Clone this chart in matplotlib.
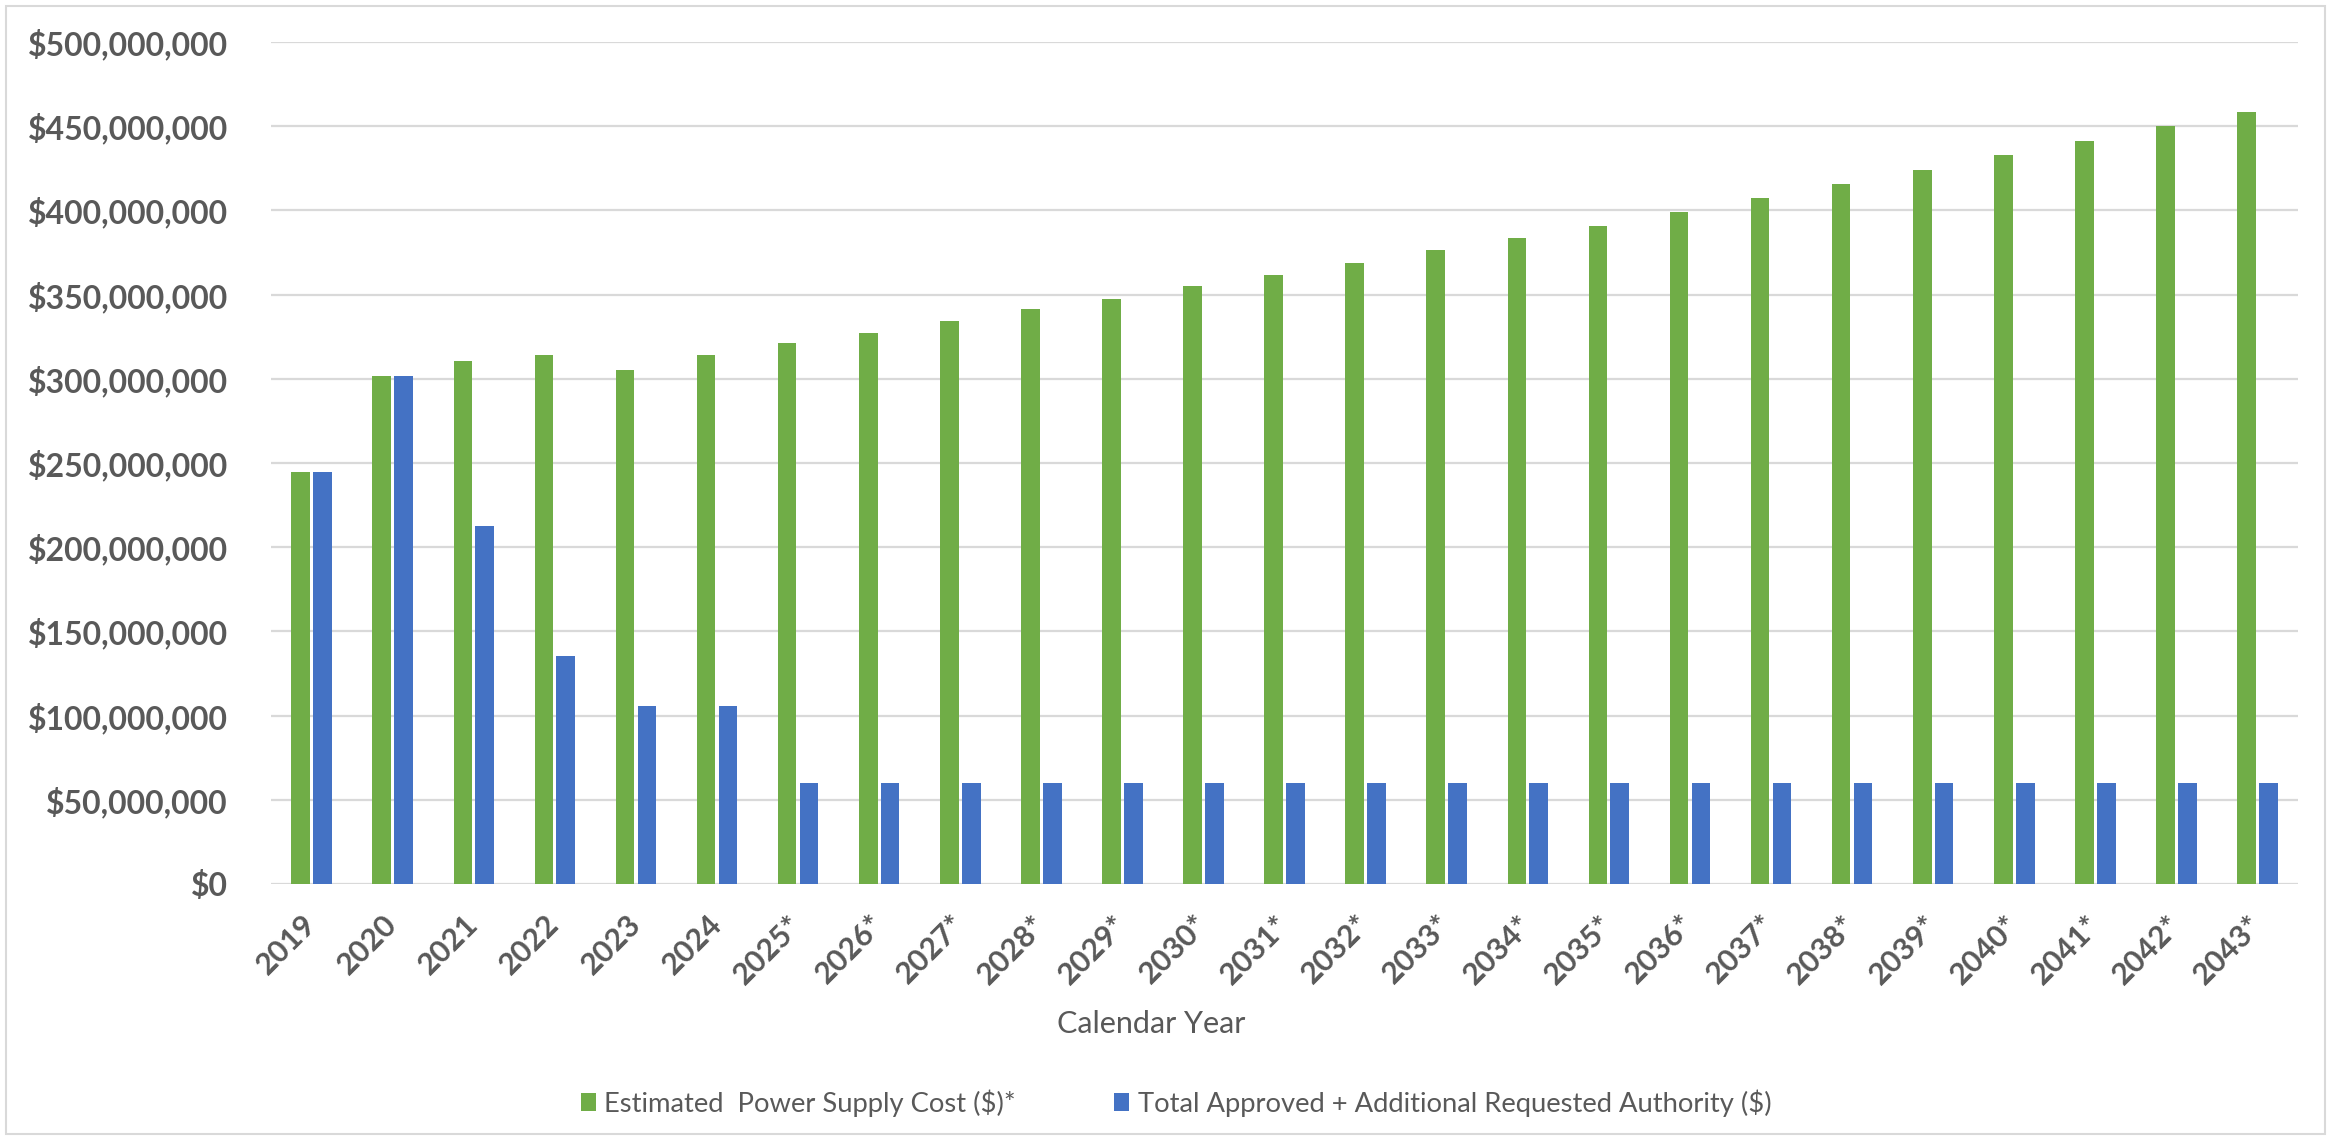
import matplotlib
matplotlib.use("Agg")
import matplotlib.pyplot as plt
import numpy as np
from matplotlib.patches import Rectangle
from matplotlib.ticker import FuncFormatter, MultipleLocator

plt.rcParams['font.family'] = ['Lato', 'DejaVu Sans']

years = ['2019', '2020', '2021', '2022', '2023', '2024', '2025*', '2026*', '2027*',
         '2028*', '2029*', '2030*', '2031*', '2032*', '2033*', '2034*', '2035*',
         '2036*', '2037*', '2038*', '2039*', '2040*', '2041*', '2042*', '2043*']

# values in $ millions
supply_cost = [244.9, 301.5, 310.3, 314.4, 305.1, 314.4, 321.2, 327.4, 334.4,
               341.2, 347.1, 355.0, 361.8, 368.7, 376.4, 383.3, 391.0,
               399.0, 407.5, 415.4, 423.9, 432.6, 441.1, 449.8, 458.4]
authority = [244.9, 301.5, 212.7, 135.2, 105.9, 105.9, 60, 60, 60,
             60, 60, 60, 60, 60, 60, 60, 60,
             60, 60, 60, 60, 60, 60, 60, 60]

green = '#70AD47'
blue = '#4472C4'
grey = '#595959'

fig = plt.figure(figsize=(23.33, 11.40), dpi=100)
ax = fig.add_axes([0.1162, 0.2246, 0.985 - 0.1162, 0.9632 - 0.2246])

x = np.arange(len(years))
w = 0.23
ax.bar(x - 0.135, np.array(supply_cost) * 1e6, w, color=green, zorder=3,
       label='Estimated  Power Supply Cost ($)*')
ax.bar(x + 0.135, np.array(authority) * 1e6, w, color=blue, zorder=3,
       label='Total Approved + Additional Requested Authority ($)')

ax.set_xlim(-0.5, len(years) - 0.5)
ax.set_ylim(0, 500e6)
ax.yaxis.set_major_locator(MultipleLocator(50e6))
ax.yaxis.set_major_formatter(FuncFormatter(lambda v, p: '${:,.0f}'.format(v)))
ax.grid(axis='y', color='#d9d9d9', linewidth=1.6, zorder=0)
for s in ax.spines.values():
    s.set_visible(False)

ax.set_xticks(x)
ax.set_xticklabels(years, rotation=45, ha='right', va='center', rotation_mode='anchor')
ax.tick_params(axis='y', length=0, labelsize=23, labelcolor=grey, pad=31)
ax.tick_params(axis='x', length=0, labelsize=22, labelcolor=grey, pad=26)
for t in ax.get_xticklabels() + ax.get_yticklabels():
    t.set_fontweight('bold')

fig.text(1151 / 2333, 1 - 1024 / 1140, 'Calendar Year', ha='center', va='center',
         fontsize=22, color=grey)

leg = fig.legend(loc='center', bbox_to_anchor=(1176 / 2333, 1 - 1103 / 1140), ncol=2,
                 frameon=False, fontsize=19.7, handlelength=0.55, handleheight=0.6,
                 handletextpad=0.3, columnspacing=3.6)
for t in leg.get_texts():
    t.set_color(grey)

fig.patches.append(Rectangle((6 / 2333, 6 / 1140), 1 - 14 / 2333, 1 - 12 / 1140,
                             transform=fig.transFigure, fill=False,
                             edgecolor='#d9d9d9', linewidth=1.5))

fig.savefig('out.png', dpi=100)
